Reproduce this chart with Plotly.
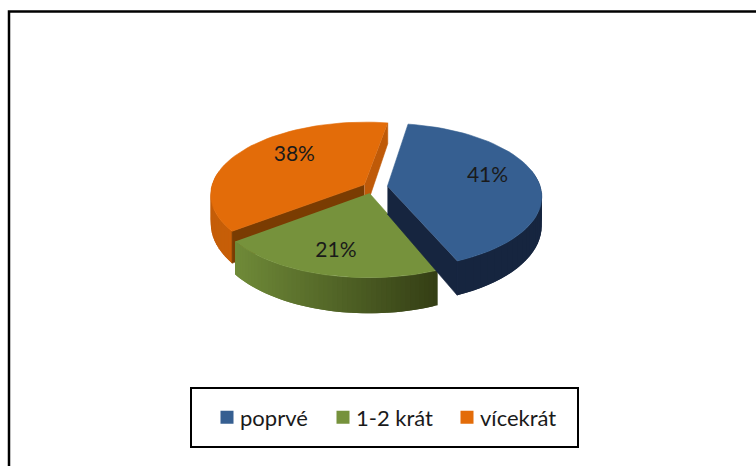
import math
import plotly.graph_objects as go

categories = ["poprvé", "1-2 krát", "vícekrát"]
values = [41, 21, 38]
labels = ["41%", "21%", "38%"]
top_colors = ["#365f91", "#76923c", "#e36c09"]

START = 9.5
CX, CY, RX, RY, K = 373.0, 187.0, 153.0, 71.4, 0.133
EXPLODE = [0.095, 0.09, 0.065]
LABEL_R = [0.683, 0.75, 0.65]
LABEL_TURN = [-5, 0, 10]


def proj(t_deg, r, off):
    t = math.radians(t_deg)
    u, v = r * math.sin(t) + off[0], -r * math.cos(t) + off[1]
    w = 1 - K * v
    return CX + RX * u / w, CY + RY * v / w, v


def depth(v):
    return 28 + 7 * v


def mix(a, b, f):
    ca = [int(a[i:i + 2], 16) for i in (1, 3, 5)]
    cb = [int(b[i:i + 2], 16) for i in (1, 3, 5)]
    return "rgb(%d,%d,%d)" % tuple(round(x + (y - x) * f) for x, y in zip(ca, cb))


total = sum(values)
spans, a = [], START
for val in values:
    s = 360 * val / total
    spans.append((a, a + s))
    a += s

rim_from = ["#16253f", "#6f8a38", "#c45d08"]
rim_to = ["#16253f", "#333d14", "#dc6a08"]
wall_lower = ["#16253f", None, "#7a3c02"]

fig = go.Figure()


def poly(xs, ys, color, lw=0.6):
    fig.add_trace(go.Scatter(x=xs, y=ys, mode="lines", fill="toself", fillcolor=color,
                             line=dict(color=color, width=lw), showlegend=False, hoverinfo="skip"))


for idx in (2, 1, 0):
    t0, t1 = spans[idx]
    m = math.radians((t0 + t1) / 2)
    off = (EXPLODE[idx] * math.sin(m), -EXPLODE[idx] * math.cos(m))
    n = 48
    ts = [t0 + (t1 - t0) * i / n for i in range(n + 1)]
    pts = [proj(t, 1, off) for t in ts]
    xvis = [p[0] for p in pts]
    xmin, xmax = min(xvis), max(xvis)
    # outer rim, in overlapping pieces so that its shade can run along the arc
    order = range(n) if idx != 2 else range(n - 1, -1, -1)
    for i in order:
        j = min(i + 2, n) if idx != 2 else i + 1
        h = i if idx != 2 else max(i - 1, 0)
        p, q = pts[h], pts[j]
        if p[2] < -0.15 and q[2] < -0.15:
            continue
        f = ((p[0] + q[0]) / 2 - xmin) / (xmax - xmin)
        poly([p[0], q[0], q[0], p[0]],
             [p[1], q[1], q[1] + depth(q[2]), p[1] + depth(p[2])],
             mix(rim_from[idx], rim_to[idx], f), lw=0)
    apex = proj(0, 0, off)
    # cut faces that look at the viewer
    if wall_lower[idx]:
        e = pts[-1] if idx == 0 else pts[0]
        poly([apex[0], e[0], e[0], apex[0]],
             [apex[1], e[1], e[1] + depth(e[2]), apex[1] + depth(apex[2])], wall_lower[idx])
    if idx == 2:
        e = pts[-1]
        poly([apex[0], e[0], e[0], apex[0]],
             [apex[1], e[1], e[1] + depth(e[2]), apex[1] + depth(apex[2])], "#bf5a08")
    poly([apex[0]] + [p[0] for p in pts], [apex[1]] + [p[1] for p in pts], top_colors[idx])

lx, ly = [], []
for idx, (t0, t1) in enumerate(spans):
    mid = (t0 + t1) / 2
    m = math.radians(mid)
    off = (EXPLODE[idx] * math.sin(m), -EXPLODE[idx] * math.cos(m))
    x, y, _ = proj(mid + LABEL_TURN[idx], LABEL_R[idx], off)
    lx.append(x)
    ly.append(y)
fig.add_trace(go.Scatter(x=lx, y=ly, mode="text", text=labels, showlegend=False, hoverinfo="skip",
                         textfont=dict(family="Lato", size=21, color="#1a1a1a")))

for name, color in zip(categories, top_colors):
    fig.add_trace(go.Scatter(x=[None], y=[None], mode="markers", name=name,
                             marker=dict(symbol="square", size=13, color=color)))

fig.update_layout(
    width=756, height=466, margin=dict(l=0, r=0, t=0, b=0),
    paper_bgcolor="white", plot_bgcolor="white",
    xaxis=dict(range=[0, 756], visible=False, fixedrange=True),
    yaxis=dict(range=[466, 0], visible=False, fixedrange=True),
    showlegend=True,
    legend=dict(orientation="h", x=207 / 756, xanchor="left", y=1 - 417.5 / 466, yanchor="middle",
                font=dict(family="Lato", size=22, color="#1a1a1a"),
                bgcolor="rgba(0,0,0,0)", entrywidth=75, entrywidthmode="pixels", traceorder="normal"),
    shapes=[
        dict(type="rect", xref="x", yref="y", x0=9, y0=11.5, x1=800, y1=500,
             line=dict(color="#000000", width=2.5)),
        dict(type="rect", xref="x", yref="y", x0=191, y0=388, x1=578, y1=447,
             line=dict(color="#000000", width=2)),
    ],
)
fig.write_html("out.html", config={"displayModeBar": False},
               post_script="document.body.style.margin='0';"
                           "document.querySelectorAll('.legendtext').forEach(function(t){"
                           "t.setAttribute('x', 33);});"
                           "var g=document.querySelectorAll('.legend .traces')[1];"
                           "var mt=/translate\\(([-\\d.]+)[ ,]+([-\\d.]+)\\)/.exec(g.getAttribute('transform'));"
                           "g.setAttribute('transform','translate('+(parseFloat(mt[1])-4)+','+mt[2]+')');")
